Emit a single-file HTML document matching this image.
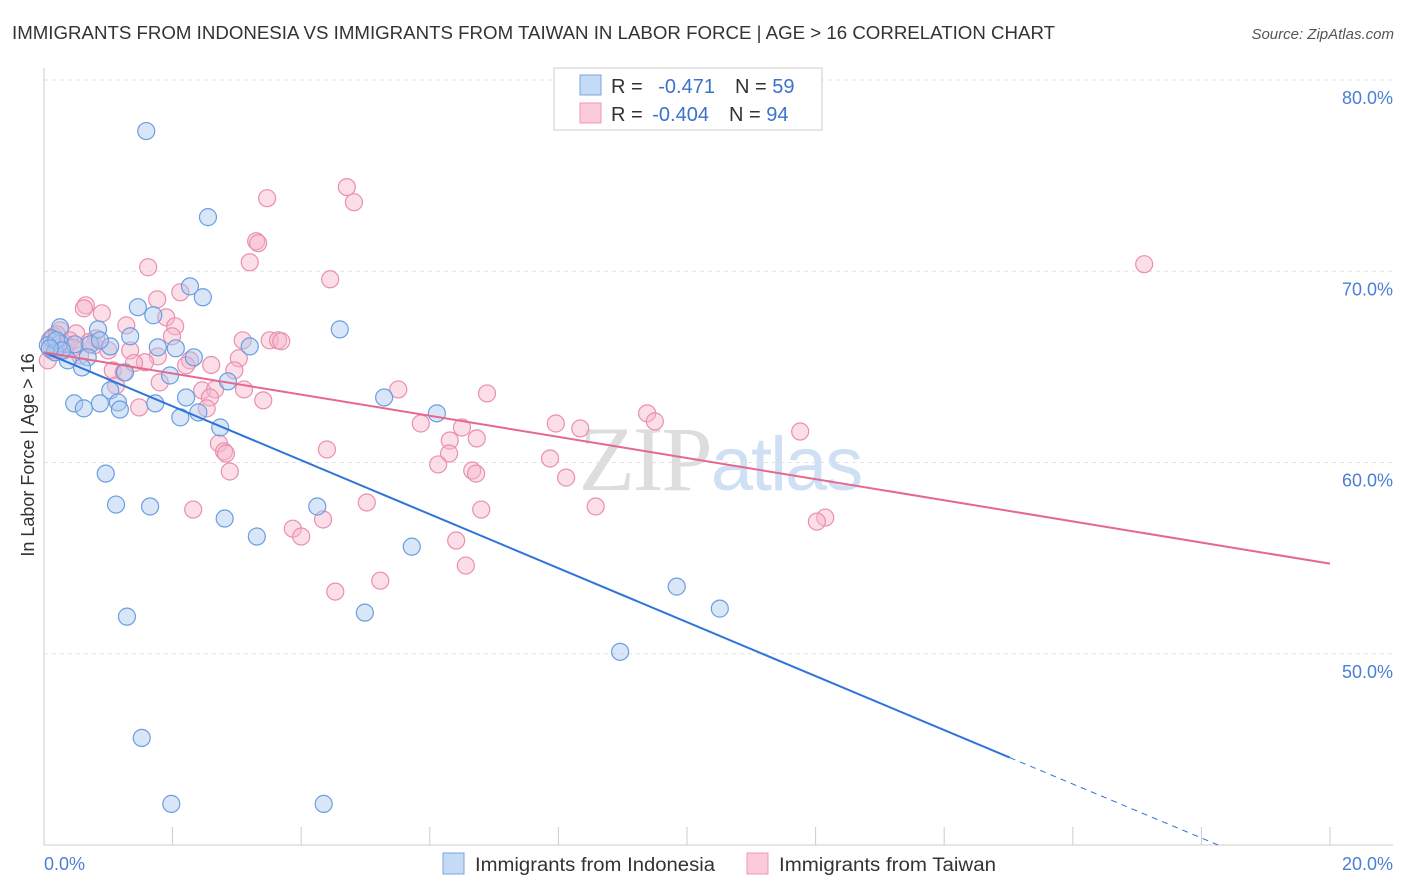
<!DOCTYPE html>
<html><head><meta charset="utf-8"><style>
body{margin:0;background:#fff;font-family:"Liberation Sans",sans-serif;}
</style></head><body>
<svg id="chart" width="1406" height="892" xmlns="http://www.w3.org/2000/svg" style="display:block">
<text x="12" y="39" font-size="18" fill="#333" textLength="1043" lengthAdjust="spacingAndGlyphs">IMMIGRANTS FROM INDONESIA VS IMMIGRANTS FROM TAIWAN IN LABOR FORCE | AGE &gt; 16 CORRELATION CHART</text>
<text x="1394" y="39" font-size="15" fill="#555" text-anchor="end" font-style="italic">Source: ZipAtlas.com</text>
<g font-size="92" text-anchor="middle"><text x="720" y="490" fill="#ddd" font-family="Liberation Serif" letter-spacing="-2">ZIP<tspan fill="#cfe0f5" font-family="Liberation Sans" font-size="76">atlas</tspan></text></g>
<g id="grid"></g><g id="axes"></g><g id="pts"></g><g id="lines"></g>
<text transform="translate(34,455) rotate(-90)" font-size="18" fill="#333" text-anchor="middle">In Labor Force | Age &gt; 16</text>
<text x="44" y="870" font-size="18" fill="#4a7fd4">0.0%</text>
<text x="1393" y="870" font-size="18" fill="#4a7fd4" text-anchor="end">20.0%</text>
<g>
<rect x="554" y="68" width="268" height="62" fill="#fff" stroke="#ccc"/>
<rect x="580" y="75" width="21" height="20" fill="#c4daf5" stroke="#7aa6e2"/>
<rect x="580" y="103" width="21" height="20" fill="#fbcadb" stroke="#ee9ab7"/>
<text x="611" y="93" font-size="20" fill="#333">R = <tspan fill="#3b73cc" dx="10">-0.471</tspan><tspan dx="20" fill="#333">N = </tspan><tspan fill="#3b73cc">59</tspan></text>
<text x="611" y="121" font-size="20" fill="#333">R = <tspan fill="#3b73cc" dx="4">-0.404</tspan><tspan dx="20" fill="#333">N = </tspan><tspan fill="#3b73cc">94</tspan></text>
</g>
<g font-size="19" fill="#333">
<rect x="443" y="853" width="21" height="21" fill="#c4daf5" stroke="#7aa6e2"/>
<text x="475" y="871" textLength="240" lengthAdjust="spacingAndGlyphs">Immigrants from Indonesia</text>
<rect x="747" y="853" width="21" height="21" fill="#fbcadb" stroke="#ee9ab7"/>
<text x="779" y="871" textLength="217" lengthAdjust="spacingAndGlyphs">Immigrants from Taiwan</text>
</g>
</svg>
<script>
const yTicks=[50,60,70,80];
const yTickLabels=["50.0%","60.0%","70.0%","80.0%"];
const xTicks=[0,2,4,6,8,10,12,14,16,18,20];
const blueX=[1.59,2.55,2.27,2.47,1.46,1.70,4.60,0.84,0.25,1.34,0.25,0.12,0.06,0.17,0.48,0.72,1.03,1.77,2.05,2.33,3.20,0.68,0.37,0.59,1.26,1.96,2.86,1.03,0.47,0.87,1.15,1.73,2.21,0.62,1.18,2.40,2.12,5.29,6.11,2.74,0.96,1.12,1.65,2.81,4.25,3.31,5.72,1.29,4.99,9.84,10.51,8.96,1.52,1.98,4.35,0.19,0.28,0.09,0.87];
const blueY=[77.33,72.83,69.21,68.64,68.12,67.70,66.96,66.96,67.07,66.60,66.23,66.49,66.13,65.76,66.18,66.18,66.07,66.02,65.97,65.50,66.07,65.50,65.34,64.97,64.71,64.55,64.24,63.77,63.09,63.09,63.14,63.09,63.40,62.83,62.77,62.62,62.36,63.40,62.57,61.83,59.42,57.80,57.70,57.07,57.70,56.13,55.60,51.94,52.15,53.51,52.36,50.10,45.60,42.15,42.15,66.39,65.86,65.97,66.39];
const pinkX=[4.71,4.82,3.47,3.30,3.33,3.20,4.45,1.62,17.11,2.12,1.76,0.65,0.62,0.90,1.90,2.04,1.28,0.50,0.25,0.81,1.99,1.34,3.09,3.51,3.64,3.69,1.77,2.27,3.03,1.07,1.24,1.57,2.21,1.80,2.96,1.12,3.11,2.46,2.66,2.58,3.41,5.51,6.89,2.53,1.48,5.86,6.50,7.96,8.34,9.38,9.50,6.31,6.73,2.72,2.80,2.83,4.40,6.30,6.13,7.87,6.66,6.72,2.89,8.12,11.76,5.02,2.32,6.80,8.58,4.34,12.15,12.02,3.87,4.00,6.41,6.56,5.23,4.53,0.06,0.09,0.12,0.19,0.34,0.40,0.56,0.78,1.00,0.31,0.15,0.45,0.70,1.40,2.60,0.20];
const pinkY=[74.40,73.61,73.82,71.57,71.47,70.47,69.58,70.21,70.37,68.90,68.53,68.22,68.06,67.80,67.59,67.12,67.17,66.75,66.91,66.49,66.60,65.86,66.39,66.39,66.39,66.34,65.55,65.34,65.45,64.82,64.71,65.24,65.08,64.19,64.82,64.03,63.82,63.77,63.82,63.40,63.25,63.82,63.61,62.83,62.88,62.04,61.83,62.04,61.78,62.57,62.15,61.15,61.26,61.00,60.58,60.47,60.68,60.47,59.90,60.21,59.58,59.42,59.53,59.21,61.62,57.91,57.54,57.54,57.70,57.02,57.12,56.91,56.54,56.13,55.92,54.61,53.82,53.25,65.34,66.39,65.86,66.13,66.18,66.39,65.60,66.13,65.86,65.86,66.60,66.00,66.30,65.20,65.10,66.70];
const blueLine={x0:0,y0:65.76,x1:18.26,y1:40,solidEnd:15.02};
const pinkLine={x0:0,y0:65.76,x1:20,y1:54.71};
const X=v=>44+v*64.3, Y=v=>80+(80-v)*19.125;
const NS="http://www.w3.org/2000/svg";
function mk(t,a,p){const e=document.createElementNS(NS,t);for(const k in a)e.setAttribute(k,a[k]);p.appendChild(e);return e;}
const grid=document.getElementById('grid'),axes=document.getElementById('axes'),pts=document.getElementById('pts'),lines=document.getElementById('lines');
yTicks.forEach((t,i)=>{
 const l=mk('line',{x1:44,x2:1393,y1:Y(t),y2:Y(t),stroke:'#e3e3e3','stroke-dasharray':'4,4'},grid);
 
 
 const tx=mk('text',{x:1393,y:Y(t)+24,'font-size':18,fill:'#4a7fd4','text-anchor':'end'},grid);
 tx.textContent=yTickLabels[i];
 
 
});
const ax=mk('line',{x1:44,x2:1393,y1:845,y2:845,stroke:'#ccc'},axes);


const ay=mk('line',{x1:44,x2:44,y1:68,y2:845,stroke:'#ccc'},axes);


xTicks.forEach(t=>{
 const l=mk('line',{x1:X(t),x2:X(t),y1:827,y2:845,stroke:'#ccc'},axes);
 
 
});
function dots(xs,ys,fill,stroke,name){
 xs.forEach((v,i)=>{
  const c=mk('circle',{cx:X(v),cy:Y(ys[i]),r:8.5,fill:fill,'fill-opacity':0.45,stroke:stroke,'stroke-width':1.2},pts);
  
  
 });
}
dots(pinkX,pinkY,'#f7b6cb','#e990ae','point-taiwan');
dots(blueX,blueY,'#a9c8f0','#6b9ee0','point-indonesia');
const by=x=>blueLine.y0+(blueLine.y1-blueLine.y0)*(x-blueLine.x0)/(blueLine.x1-blueLine.x0);
const b1=mk('line',{x1:X(blueLine.x0),y1:Y(blueLine.y0),x2:X(blueLine.solidEnd),y2:Y(by(blueLine.solidEnd)),stroke:'#2f74d8','stroke-width':2},lines);


const b2=mk('line',{x1:X(blueLine.solidEnd),y1:Y(by(blueLine.solidEnd)),x2:X(blueLine.x1),y2:Y(blueLine.y1),stroke:'#2f74d8','stroke-width':1,'stroke-dasharray':'6,5'},lines);


const p1=mk('line',{x1:X(pinkLine.x0),y1:Y(pinkLine.y0),x2:X(pinkLine.x1),y2:Y(pinkLine.y1),stroke:'#e5688f','stroke-width':2},lines);


</script>
</body></html>
